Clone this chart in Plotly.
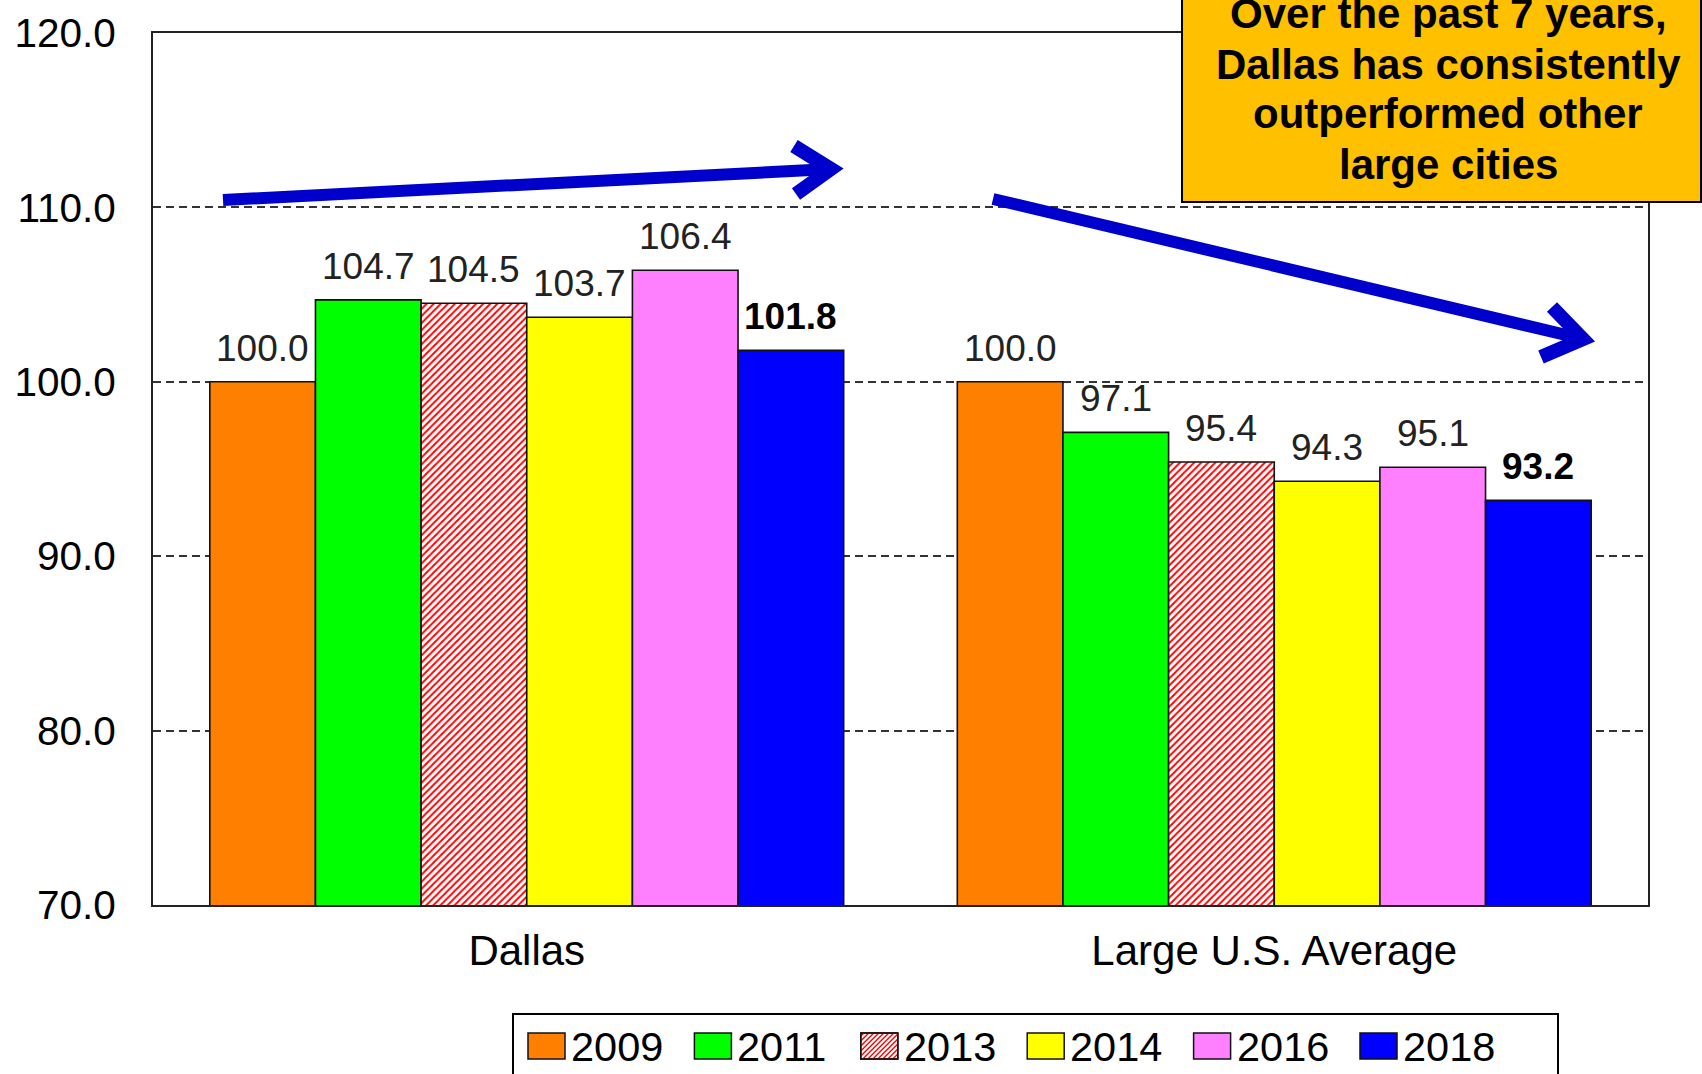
import plotly.graph_objects as go

# ---------------------------------------------------------------
# Data
# ---------------------------------------------------------------
categories = ["Dallas", "Large U.S. Average"]
years = ["2009", "2011", "2013", "2014", "2016", "2018"]
dallas = [100.0, 104.7, 104.5, 103.7, 106.4, 101.8]
large_avg = [100.0, 97.1, 95.4, 94.3, 95.1, 93.2]
y_ticks = [70, 80, 90, 100, 110, 120]
note_lines = ["Over the past 7 years,", "Dallas has consistently",
              "outperformed other", "large cities"]

# styles
colors = ["#FF8000", "#00FF00", "#FFFFFF", "#FFFF00", "#FF80FF", "#0000FF"]
hatched = "2013"
FONT = "Arial, Liberation Sans, sans-serif"

W, H = 1702, 1074
# plot area in page pixels: x 153..1648, y 33..905
L, R, T, B = 153, W - 1648, 33, H - 905
PW, PH = 1648 - 153, 905 - 33
BARGAP = 0.152


def px(x):
    # page pixel -> paper fraction
    return (x - 153) / PW


def py(y):
    return (905 - y) / PH


fig = go.Figure()

for i, yr in enumerate(years):
    vals = [dallas[i], large_avg[i]]
    marker = dict(color=colors[i], line=dict(color="#111111", width=1.6))
    if yr == hatched:
        marker["pattern"] = dict(shape="/", fgcolor="#FF0000", bgcolor="#FFFFFF",
                                 size=5, solidity=0.4, fillmode="replace")
    fig.add_trace(go.Bar(x=categories, y=vals, name=yr, marker=marker,
                         hoverinfo="x+y+name"))

# value labels above bars
gw = 1 - BARGAP
n = len(years)
annotations = []
for i, yr in enumerate(years):
    off = -gw / 2 + (i + 0.5) * gw / n
    for c, vals in enumerate([dallas, large_avg]):
        v = vals[i]
        bold = yr == years[-1]
        txt = f"<b>{v:.1f}</b>" if bold else f"{v:.1f}"
        annotations.append(dict(
            x=c + off, y=v, xref="x", yref="y", text=txt, showarrow=False,
            yanchor="bottom", yshift=11,
            font=dict(family=FONT, size=37, color="#000000" if bold else "#222222")))

# note box text, one annotation per line to control the spacing
note_y = [14, 64, 114, 165]
for k, line in enumerate(note_lines):
    annotations.append(dict(
        x=px(1448), y=py(note_y[k]), xref="paper", yref="paper",
        text=f"<b>{line}</b>", showarrow=False,
        xanchor="center", yanchor="middle",
        font=dict(family=FONT, size=42, color="#000000")))

shapes = []

# note box
shapes.append(dict(type="rect", xref="paper", yref="paper",
                   x0=px(1182), x1=px(1701), y0=py(202), y1=py(-6),
                   fillcolor="#FFC000", line=dict(color="#000000", width=2),
                   layer="above"))

# arrows
ARROW = "#0000CC"
arrows = [
    dict(start=(223, 200), vertex=(831, 169), arm1=(794, 146), arm2=(796, 194)),
    dict(start=(993, 199), vertex=(1583, 339), arm1=(1552, 307), arm2=(1541, 357)),
]
for a in arrows:
    shapes.append(dict(type="line", xref="paper", yref="paper",
                       x0=px(a["start"][0]), y0=py(a["start"][1]),
                       x1=px(a["vertex"][0]), y1=py(a["vertex"][1]),
                       line=dict(color=ARROW, width=12), layer="above"))
    path = "M {} {} L {} {} L {} {}".format(
        px(a["arm1"][0]), py(a["arm1"][1]),
        px(a["vertex"][0]), py(a["vertex"][1]),
        px(a["arm2"][0]), py(a["arm2"][1]))
    shapes.append(dict(type="path", xref="paper", yref="paper", path=path,
                       line=dict(color=ARROW, width=14), layer="above"))

# legend box (drawn by hand so the swatches can be large)
shapes.append(dict(type="rect", xref="paper", yref="paper",
                   x0=px(513), x1=px(1558), y0=py(1014), y1=py(1090),
                   fillcolor="#FFFFFF", line=dict(color="#000000", width=2)))
sw_w, sw_y0, sw_y1 = 37, 1033, 1059
for i, yr in enumerate(years):
    sx = 528 + i * 166.4
    shapes.append(dict(type="rect", xref="paper", yref="paper",
                       x0=px(sx), x1=px(sx + sw_w), y0=py(sw_y0), y1=py(sw_y1),
                       fillcolor=colors[i], line=dict(color="#111111", width=1.5)))
    if yr == hatched:
        segs = []
        c = sx + sw_y0 + 3
        while c < sx + sw_w + sw_y1:
            xa = max(sx, c - sw_y1)
            xb = min(sx + sw_w, c - sw_y0)
            if xb > xa:
                segs.append("M {} {} L {} {}".format(px(xa), py(c - xa), px(xb), py(c - xb)))
            c += 5
        shapes.append(dict(type="path", xref="paper", yref="paper", path=" ".join(segs),
                           line=dict(color="#FF0000", width=1.3)))
        shapes.append(dict(type="rect", xref="paper", yref="paper",
                           x0=px(sx), x1=px(sx + sw_w), y0=py(sw_y0), y1=py(sw_y1),
                           line=dict(color="#111111", width=1.5)))
    annotations.append(dict(
        x=px(sx + sw_w + 4), y=py((sw_y0 + sw_y1) / 2), xref="paper", yref="paper",
        text=yr, showarrow=False, xanchor="left", yanchor="middle",
        font=dict(family=FONT, size=41.5, color="#000000")))

fig.update_layout(
    width=W, height=H,
    margin=dict(l=L, r=R, t=T, b=B, pad=0),
    paper_bgcolor="#FFFFFF", plot_bgcolor="#FFFFFF",
    barmode="group", bargap=BARGAP, bargroupgap=0,
    showlegend=False,
    font=dict(family=FONT, color="#000000"),
    annotations=annotations,
    shapes=shapes,
)

fig.update_xaxes(
    type="category", range=[-0.5, 1.5], automargin=False,
    showline=True, linecolor="#222222", linewidth=2, mirror=True,
    showgrid=False, ticks="", ticklabelstandoff=8,
    tickfont=dict(family=FONT, size=42, color="#000000"),
)

fig.update_yaxes(
    range=[70, 120], tickvals=y_ticks, tickformat=".1f", automargin=False,
    showline=True, linecolor="#222222", linewidth=2, mirror=True,
    showgrid=True, gridcolor="#333333", gridwidth=2, griddash="8px,5px",
    zeroline=False, ticks="", ticklabelstandoff=27,
    tickfont=dict(family=FONT, size=40.5, color="#000000"),
)

# drop the default body margin so the figure fills the window
fig.write_html("out.html", config={"displayModeBar": False},
               post_script="document.body.style.margin = '0px';")
